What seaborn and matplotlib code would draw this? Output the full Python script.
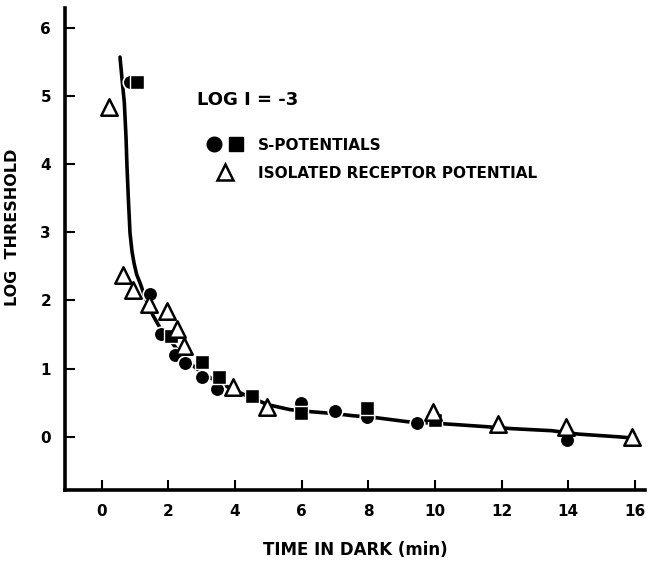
import numpy as np
import pandas as pd
import matplotlib
matplotlib.use("Agg")
import matplotlib.pyplot as plt
import seaborn as sns
from matplotlib.lines import Line2D
from matplotlib.legend_handler import HandlerTuple

# S-potentials (circles and squares) and isolated receptor potential (triangles)
circle_t = [0.85, 1.45, 1.78, 2.19, 2.49, 3.0, 3.46, 5.97, 6.99, 7.97, 9.45, 13.96]
circle_y = [5.20, 2.09, 1.51, 1.20, 1.08, 0.88, 0.70, 0.50, 0.38, 0.29, 0.21, -0.04]
square_t = [1.07, 2.07, 3.0, 3.52, 4.5, 5.97, 7.97, 10.0]
square_y = [5.21, 1.48, 1.10, 0.88, 0.60, 0.35, 0.43, 0.24]
tri_t = [0.22, 0.64, 0.94, 1.42, 1.95, 2.25, 2.47, 3.94, 4.95, 9.93, 11.9, 13.93, 15.91]
tri_y = [4.84, 2.38, 2.16, 1.95, 1.84, 1.58, 1.33, 0.73, 0.44, 0.37, 0.19, 0.15, 0.0]

# hand-drawn dark adaptation curve
curve_t = [0.55, 0.62, 0.68, 0.73, 0.76, 0.80, 0.85, 0.91, 0.97, 1.05, 1.15, 1.30, 1.54,
           1.75, 2.0, 2.3, 2.6, 3.0, 3.5, 4.0, 4.5, 5.0, 5.64, 6.24, 7.0, 7.53, 8.24,
           9.2, 10.3, 11.5, 12.3, 13.5, 14.3, 15.5, 16.0]
curve_y = [5.57, 5.20, 4.90, 4.40, 3.96, 3.50, 2.99, 2.72, 2.55, 2.38, 2.26, 2.05, 1.78,
           1.60, 1.45, 1.26, 1.10, 0.94, 0.80, 0.68, 0.57, 0.47, 0.40, 0.37, 0.34, 0.31, 0.28,
           0.22, 0.19, 0.15, 0.12, 0.09, 0.04, 0.0, -0.02]

x_ticks = [0, 2, 4, 6, 8, 10, 12, 14, 16]
y_ticks = [0, 1, 2, 3, 4, 5, 6]

sns.set_style("ticks")
plt.rcParams['font.family'] = ['DejaVu Sans']
plt.rcParams['font.weight'] = 'bold'
for key in ["text.color", "axes.labelcolor", "xtick.color", "ytick.color", "axes.edgecolor"]:
    plt.rcParams[key] = "black"

fig = plt.figure(figsize=(6.6, 5.64), dpi=100)
ax = fig.add_axes([65 / 660, 1 - 490 / 564, 580 / 660, 482 / 564])

curve = pd.DataFrame({"t": curve_t, "y": curve_y})
sns.lineplot(data=curve, x="t", y="y", ax=ax, color="black", lw=2.6,
             sort=False, estimator=None, zorder=2)

sns.scatterplot(x=circle_t, y=circle_y, ax=ax, marker="o", s=110, color="black",
                edgecolor="white", linewidth=1.2, zorder=3)
sns.scatterplot(x=square_t, y=square_y, ax=ax, marker="s", s=100, color="black",
                edgecolor="white", linewidth=1.0, zorder=3)
sns.scatterplot(x=tri_t, y=tri_y, ax=ax, marker="^", s=140, facecolor="white",
                edgecolor="black", linewidth=1.8, zorder=4)

ax.set_xlim(-1.1, 16.3)
ax.set_ylim(-0.78, 6.29)
ax.set_xticks(x_ticks)
ax.set_yticks(y_ticks)
ax.tick_params(direction="in", length=7, width=1.5, labelsize=11, pad=10, colors="black")
for lab in ax.get_xticklabels() + ax.get_yticklabels():
    lab.set_fontweight("bold")

sns.despine(ax=ax)
ax.spines["left"].set_linewidth(2.6)
ax.spines["bottom"].set_linewidth(2.6)

ax.set_xlabel("TIME IN DARK (min)", fontsize=12, fontweight="bold", labelpad=16)
ax.set_ylabel("LOG  THRESHOLD", fontsize=11.5, fontweight="bold")
ax.yaxis.set_label_coords(-0.078, 0.544)

ax.text(0.2276, 0.809, "LOG I = -3", transform=ax.transAxes, fontsize=13,
        fontweight="bold", va="center", ha="left")

h_circ = Line2D([], [], marker="o", ls="none", color="black", markersize=10.5)
h_sq = Line2D([], [], marker="s", ls="none", color="black", markersize=9.5)
h_tri = Line2D([], [], marker="^", ls="none", markerfacecolor="white",
               markeredgecolor="black", markeredgewidth=1.8, markersize=11)
leg = ax.legend([(h_circ, h_sq), h_tri], ["S-POTENTIALS", "ISOLATED RECEPTOR POTENTIAL"],
                handler_map={tuple: HandlerTuple(ndivide=None, pad=0.3)},
                loc="upper left", bbox_to_anchor=(0.241, 0.731), frameon=False,
                borderpad=0, borderaxespad=0, handlelength=2.6, handletextpad=0.9,
                labelspacing=0.85, prop={"size": 11, "weight": "bold"})

fig.savefig("out.png", dpi=100)
